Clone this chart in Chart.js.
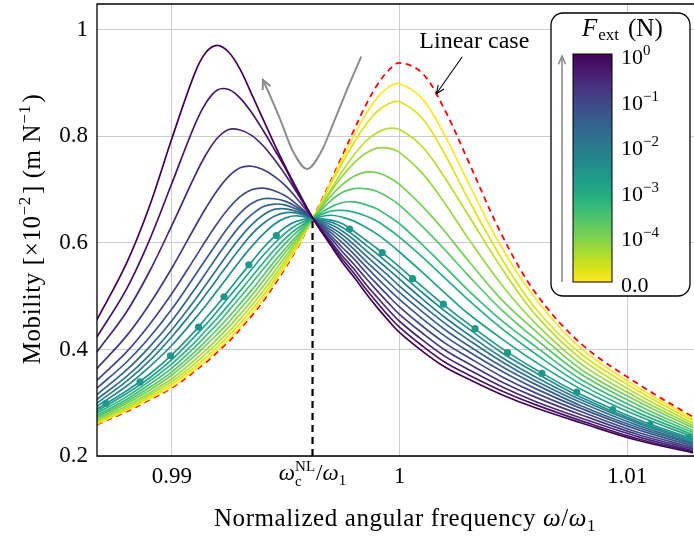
<!DOCTYPE html>
<html>
<head>
<meta charset="utf-8">
<script src="https://cdn.jsdelivr.net/npm/chart.js@4.4.1/dist/chart.umd.min.js"></script>
<style>
html, body { margin: 0; padding: 0; background: #fff; overflow: hidden; }
#wrap { position: relative; width: 700px; height: 537px; }
</style>
</head>
<body>
<div id="wrap"><canvas id="chart"></canvas></div>
<script>
// normalized angular frequency grid (omega / omega_1)
const freq = [0.9867, 0.988, 0.989, 0.990, 0.991, 0.9915, 0.992, 0.9925, 0.993, 0.9935,
  0.994, 0.9945, 0.995, 0.9955, 0.9962, 0.997, 0.9975, 0.998, 0.9985, 0.999,
  0.9995, 1.000, 1.001, 1.002, 1.003, 1.0045, 1.006, 1.008, 1.0105, 1.0129];

// mobility (x1e-2 m/N), linear case
const linearCase = [0.259,0.283,0.305,0.328,0.359,0.376,0.395,0.415,0.438,0.463,0.490,0.521,0.554,0.590,0.647,0.718,0.765,0.812,0.857,0.895,0.923,0.938,0.919,0.849,0.756,0.615,0.505,0.410,0.335,0.273];

// nonlinear responses, from smallest to largest F_ext
const r1 = [0.260,0.285,0.307,0.330,0.362,0.379,0.399,0.419,0.442,0.467,0.494,0.525,0.557,0.592,0.646,0.715,0.759,0.801,0.840,0.871,0.892,0.899,0.871,0.801,0.715,0.591,0.494,0.401,0.328,0.270];
const r2 = [0.262,0.287,0.310,0.335,0.367,0.385,0.405,0.426,0.449,0.474,0.501,0.531,0.562,0.596,0.646,0.712,0.751,0.788,0.821,0.846,0.861,0.865,0.834,0.766,0.684,0.570,0.476,0.391,0.322,0.266];
const r3 = [0.265,0.290,0.314,0.340,0.373,0.392,0.412,0.433,0.457,0.482,0.509,0.538,0.568,0.600,0.646,0.702,0.735,0.765,0.790,0.807,0.815,0.813,0.781,0.722,0.654,0.552,0.464,0.382,0.315,0.261];
const r4 = [0.267,0.294,0.318,0.345,0.380,0.399,0.420,0.442,0.466,0.491,0.518,0.546,0.575,0.604,0.646,0.697,0.726,0.750,0.768,0.778,0.778,0.770,0.731,0.674,0.610,0.521,0.448,0.372,0.308,0.257];
const r5 = [0.270,0.298,0.323,0.352,0.388,0.408,0.429,0.451,0.476,0.501,0.528,0.556,0.583,0.609,0.646,0.689,0.710,0.725,0.733,0.732,0.724,0.710,0.669,0.621,0.568,0.493,0.434,0.362,0.302,0.253];
const r6 = [0.273,0.302,0.328,0.358,0.395,0.416,0.438,0.461,0.486,0.511,0.538,0.565,0.590,0.614,0.646,0.680,0.695,0.702,0.702,0.697,0.686,0.671,0.631,0.587,0.540,0.474,0.419,0.353,0.295,0.248];
const r7 = [0.276,0.306,0.334,0.365,0.404,0.426,0.448,0.473,0.498,0.524,0.550,0.576,0.600,0.621,0.646,0.668,0.676,0.677,0.672,0.664,0.651,0.636,0.597,0.555,0.512,0.454,0.405,0.343,0.288,0.244];
const r8 = [0.280,0.311,0.340,0.373,0.413,0.436,0.459,0.484,0.510,0.536,0.562,0.587,0.609,0.627,0.646,0.660,0.661,0.658,0.651,0.641,0.627,0.611,0.574,0.534,0.494,0.439,0.391,0.334,0.281,0.240];
const r9 = [0.284,0.317,0.346,0.381,0.424,0.447,0.472,0.498,0.524,0.550,0.576,0.599,0.619,0.634,0.646,0.652,0.648,0.641,0.630,0.617,0.601,0.583,0.545,0.506,0.468,0.420,0.376,0.325,0.275,0.236];
const crit = [0.288,0.322,0.353,0.390,0.434,0.459,0.484,0.511,0.538,0.564,0.590,0.612,0.630,0.641,0.646,0.643,0.636,0.622,0.606,0.590,0.573,0.555,0.518,0.482,0.449,0.402,0.362,0.315,0.268,0.232];
const l1 = [0.293,0.331,0.367,0.408,0.457,0.483,0.511,0.539,0.567,0.593,0.616,0.635,0.647,0.651,0.646,0.639,0.629,0.614,0.597,0.580,0.562,0.544,0.507,0.472,0.440,0.394,0.356,0.310,0.264,0.230];
const l2 = [0.299,0.340,0.378,0.424,0.476,0.504,0.533,0.562,0.590,0.616,0.636,0.650,0.657,0.656,0.646,0.634,0.622,0.606,0.587,0.569,0.551,0.532,0.495,0.460,0.429,0.385,0.348,0.305,0.261,0.227];
const l3 = [0.306,0.349,0.389,0.437,0.492,0.522,0.552,0.582,0.610,0.634,0.652,0.663,0.664,0.659,0.646,0.629,0.615,0.597,0.577,0.558,0.539,0.519,0.483,0.449,0.419,0.377,0.341,0.300,0.257,0.224];
const l4 = [0.315,0.361,0.404,0.454,0.513,0.544,0.575,0.605,0.632,0.653,0.668,0.673,0.671,0.663,0.646,0.624,0.608,0.588,0.567,0.547,0.527,0.507,0.471,0.437,0.408,0.368,0.334,0.294,0.253,0.222];
const l5 = [0.327,0.376,0.422,0.476,0.538,0.570,0.601,0.631,0.656,0.674,0.683,0.683,0.678,0.667,0.646,0.619,0.600,0.579,0.557,0.535,0.514,0.494,0.458,0.425,0.397,0.359,0.326,0.289,0.249,0.219];
const l6 = [0.342,0.395,0.446,0.505,0.571,0.605,0.637,0.665,0.687,0.700,0.703,0.698,0.688,0.672,0.646,0.613,0.591,0.570,0.546,0.523,0.501,0.480,0.444,0.412,0.386,0.349,0.318,0.283,0.244,0.216];
const l7 = [0.364,0.425,0.484,0.553,0.629,0.666,0.699,0.725,0.741,0.744,0.738,0.725,0.707,0.683,0.646,0.608,0.583,0.560,0.535,0.511,0.488,0.466,0.431,0.399,0.374,0.339,0.310,0.277,0.240,0.213];
const l8 = [0.395,0.470,0.545,0.633,0.725,0.766,0.797,0.813,0.812,0.802,0.783,0.757,0.727,0.694,0.646,0.602,0.575,0.551,0.524,0.499,0.475,0.453,0.418,0.387,0.363,0.330,0.302,0.271,0.236,0.210];
const l9 = [0.423,0.513,0.604,0.712,0.821,0.863,0.887,0.888,0.872,0.845,0.812,0.776,0.739,0.697,0.646,0.598,0.569,0.543,0.515,0.489,0.464,0.442,0.407,0.376,0.353,0.322,0.296,0.266,0.232,0.208];
const l10 = [0.455,0.561,0.667,0.796,0.918,0.958,0.971,0.958,0.926,0.880,0.833,0.786,0.742,0.701,0.646,0.594,0.563,0.536,0.507,0.480,0.455,0.432,0.397,0.367,0.345,0.315,0.290,0.262,0.229,0.206];

// markers on the critical curve
const dotX = [0.98710,0.98860,0.98994,0.99117,0.99229,0.99338,0.99459,0.99781,0.99924,1.00058,1.00193,1.00332,1.00475,1.00626,1.00779,1.00937,1.01101,1.01272];
const dotY = [0.299,0.339,0.388,0.442,0.499,0.559,0.614,0.626,0.582,0.533,0.485,0.439,0.394,0.355,0.320,0.287,0.259,0.235];

// critical frequency and mobility at the crossing
const critFreq = 0.99618;
const critMob = 0.646;

// gray trend arrow (peak drift), left end carries the arrow head
const trendX = [0.99400,0.99430,0.99474,0.99532,0.99594,0.99657,0.99707,0.99766,0.99832];
const trendY = [0.906,0.878,0.834,0.772,0.739,0.772,0.822,0.884,0.950];

const xTicks = [0.99, critFreq, 1, 1.01];
const xTickLabels = ['0.99', '', '1', '1.01'];
const yTicks = [0.2, 0.4, 0.6, 0.8, 1.0];
const yTickLabels = ['0.2', '0.4', '0.6', '0.8', '1'];
const cbarLabels = [['10','0'], ['10','\u22121'], ['10','\u22122'], ['10','\u22123'], ['10','\u22124'], ['0.0','']];

const curves = [r1, r2, r3, r4, r5, r6, r7, r8, r9, crit, l1, l2, l3, l4, l5, l6, l7, l8, l9, l10];

const viridisStops = ['#440154','#471365','#482475','#463480','#414487','#3b528b','#355f8d','#2f6c8e','#2a788e','#25848e','#21918c','#1e9c89','#22a884','#2fb47c','#44bf70','#5ec962','#7ad151','#9bd93c','#bddf26','#dfe318','#fde725'];
function hexRgb(h) { return [1, 3, 5].map(i => parseInt(h.substr(i, 2), 16)); }
function viridis(t) {
  const n = viridisStops.length - 1;
  const p = Math.max(0, Math.min(1, t)) * n;
  const i = Math.min(n - 1, Math.floor(p));
  const f = p - i;
  const a = hexRgb(viridisStops[i]), b = hexRgb(viridisStops[i + 1]);
  const c = a.map((v, k) => Math.round(v + (b[k] - v) * f));
  return 'rgb(' + c.join(',') + ')';
}

const SERIF = '"Liberation Serif", "Times New Roman", serif';
function fontOf(p) { return (p.it ? 'italic ' : '') + p.s + 'px ' + SERIF; }
function richWidth(ctx, parts) {
  let w = 0;
  for (const p of parts) {
    ctx.font = fontOf(p);
    if (p.adv !== false) w += ctx.measureText(p.t).width + (p.gap || 0);
  }
  return w;
}
function drawRich(ctx, parts, x, y, align) {
  let cx = align === 'center' ? x - richWidth(ctx, parts) / 2 : x;
  for (const p of parts) {
    ctx.font = fontOf(p);
    ctx.fillText(p.t, cx, y + (p.dy || 0));
    if (p.adv !== false) cx += ctx.measureText(p.t).width + (p.gap || 0);
  }
}
function arrowHead(ctx, x0, y0, x1, y1, len, spread) {
  const ang = Math.atan2(y1 - y0, x1 - x0);
  ctx.beginPath();
  ctx.moveTo(x1 - len * Math.cos(ang - spread), y1 - len * Math.sin(ang - spread));
  ctx.lineTo(x1, y1);
  ctx.lineTo(x1 - len * Math.cos(ang + spread), y1 - len * Math.sin(ang + spread));
  ctx.stroke();
}

const pts = arr => freq.map((x, k) => ({ x: x, y: arr[k] }));

const datasets = [];
datasets.push({
  data: dotX.map((x, k) => ({ x: x, y: dotY[k] })),
  showLine: false, pointRadius: 3.6, pointBackgroundColor: viridis(1 - 9 / 19),
  pointBorderWidth: 0, order: 0
});
datasets.push({
  data: trendX.map((x, k) => ({ x: x, y: trendY[k] })),
  borderColor: '#8c8c8c', borderWidth: 2, cubicInterpolationMode: 'monotone', pointRadius: 0, order: 1
});
datasets.push({
  data: [{ x: critFreq, y: 0.2 }, { x: critFreq, y: critMob }],
  borderColor: '#000', borderWidth: 2.2, borderDash: [7, 5], pointRadius: 0, order: 2
});
datasets.push({
  data: pts(linearCase), borderColor: '#ff0000', borderWidth: 1.8, borderDash: [6, 4.5],
  tension: 0.35, pointRadius: 0, order: 30
});
curves.forEach((arr, i) => {
  datasets.push({
    data: pts(arr), borderColor: viridis(1 - i / 19), borderWidth: 1.7,
    tension: 0.35, pointRadius: 0, order: 4 + (19 - i)
  });
});

const overlay = {
  id: 'overlay',
  afterDraw(chart) {
    const { ctx, chartArea: a, scales: { x, y } } = chart;
    ctx.save();
    ctx.fillStyle = '#000';
    ctx.textBaseline = 'alphabetic';
    ctx.textAlign = 'left';

    // gray trend arrow head
    ctx.strokeStyle = '#8c8c8c';
    ctx.lineWidth = 2;
    arrowHead(ctx, x.getPixelForValue(trendX[1]), y.getPixelForValue(trendY[1]),
      x.getPixelForValue(trendX[0]), y.getPixelForValue(trendY[0]), 10, 0.45);

    // "Linear case" label and pointer
    ctx.strokeStyle = '#000';
    ctx.lineWidth = 1.1;
    const tx = x.getPixelForValue(1.00276), ty = y.getPixelForValue(0.9495);
    const hx = x.getPixelForValue(1.00162), hy = y.getPixelForValue(0.880);
    ctx.beginPath(); ctx.moveTo(tx, ty); ctx.lineTo(hx, hy); ctx.stroke();
    arrowHead(ctx, tx, ty, hx, hy, 9, 0.4);
    drawRich(ctx, [{ t: 'Linear case', s: 24 }], x.getPixelForValue(1.00329), 48, 'center');

    // frame (right side falls outside the picture)
    ctx.lineWidth = 1.3;
    ctx.beginPath();
    ctx.moveTo(a.right + 5, a.top);
    ctx.lineTo(a.left, a.top);
    ctx.lineTo(a.left, a.bottom);
    ctx.lineTo(a.right + 5, a.bottom);
    ctx.stroke();

    // critical frequency label on the x axis
    drawRich(ctx, [
      { t: '\u03c9', s: 23, it: true },
      { t: 'c', s: 15, dy: 6, adv: false },
      { t: 'NL', s: 15, dy: -9, gap: 1 },
      { t: '/', s: 23 },
      { t: '\u03c9', s: 23, it: true },
      { t: '1', s: 15, dy: 5 }
    ], x.getPixelForValue(critFreq), 480, 'center');

    // axis titles
    if ('letterSpacing' in ctx) ctx.letterSpacing = '0.6px';
    drawRich(ctx, [
      { t: 'Normalized angular frequency ', s: 25 },
      { t: '\u03c9', s: 25, it: true },
      { t: '/', s: 25 },
      { t: '\u03c9', s: 25, it: true },
      { t: '1', s: 17, dy: 5 }
    ], 405, 526, 'center');
    ctx.save();
    ctx.translate(40, 229);
    ctx.rotate(-Math.PI / 2);
    drawRich(ctx, [
      { t: 'Mobility [\u00d710', s: 25 },
      { t: '\u22122', s: 17, dy: -10, gap: 2 },
      { t: '] (m N', s: 25 },
      { t: '\u22121', s: 17, dy: -10, gap: 2 },
      { t: ')', s: 25 }
    ], 0, 0, 'center');
    ctx.restore();
    if ('letterSpacing' in ctx) ctx.letterSpacing = '0px';

    // colour bar legend
    ctx.beginPath();
    ctx.roundRect(551, 13, 139, 283, 12);
    ctx.fillStyle = '#fff';
    ctx.fill();
    ctx.lineWidth = 1.3;
    ctx.strokeStyle = '#000';
    ctx.stroke();
    const bx = 573, bTop = 54, bw = 39, bBot = 282;
    const grad = ctx.createLinearGradient(0, bTop, 0, bBot);
    viridisStops.forEach((c, k) => grad.addColorStop(k / (viridisStops.length - 1), c));
    ctx.fillStyle = grad;
    ctx.fillRect(bx, bTop, bw, bBot - bTop);
    ctx.lineWidth = 1;
    ctx.strokeRect(bx, bTop, bw, bBot - bTop);
    ctx.strokeStyle = '#8c8c8c';
    ctx.lineWidth = 1.6;
    ctx.beginPath(); ctx.moveTo(562, 282); ctx.lineTo(562, 56); ctx.stroke();
    arrowHead(ctx, 562, 282, 562, 56, 9, 0.4);
    ctx.fillStyle = '#000';
    drawRich(ctx, [
      { t: 'F', s: 25, it: true, gap: 1 },
      { t: 'ext', s: 17, dy: 4, gap: 9 },
      { t: '(N)', s: 25 }
    ], 582, 36, 'left');
    cbarLabels.forEach((lab, k) => {
      const cy = 64 + k * 45.6;
      const parts = [{ t: lab[0], s: 22 }];
      if (lab[1]) parts.push({ t: lab[1], s: 15, dy: -9 });
      drawRich(ctx, parts, 621, cy, 'left');
    });
    ctx.restore();
  }
};

const tickFont = { family: SERIF, size: 23 };
new Chart(document.getElementById('chart'), {
  type: 'line',
  data: { datasets: datasets },
  plugins: [overlay],
  options: {
    responsive: true,
    maintainAspectRatio: false,
    animation: false,
    layout: { padding: { top: 2, right: 3, left: 0, bottom: 0 } },
    plugins: { legend: { display: false }, tooltip: { enabled: false } },
    scales: {
      x: {
        type: 'linear', min: 0.98671, max: 1.01303,
        afterBuildTicks: s => { s.ticks = xTicks.map(v => ({ value: v })); },
        afterFit: s => { s.height = 81; s.paddingLeft = 0; s.paddingRight = 0; },
        border: { display: false },
        grid: {
          drawTicks: false, lineWidth: 1,
          color: c => (c.tick && c.tick.value === critFreq) ? 'rgba(0,0,0,0)' : '#cccccc'
        },
        ticks: {
          autoSkip: false, maxRotation: 0, padding: 7, color: '#000', font: tickFont,
          callback: (v, i) => xTickLabels[i]
        }
      },
      y: {
        min: 0.2, max: 1.0486,
        afterBuildTicks: s => { s.ticks = yTicks.map(v => ({ value: v })); },
        afterFit: s => { s.width = 97; s.paddingTop = 0; s.paddingBottom = 0; },
        border: { display: false },
        grid: { drawTicks: false, lineWidth: 1, color: '#cccccc' },
        ticks: {
          padding: 9, color: '#000', font: tickFont,
          callback: (v, i) => yTickLabels[i]
        }
      }
    }
  }
});
</script>
</body>
</html>
